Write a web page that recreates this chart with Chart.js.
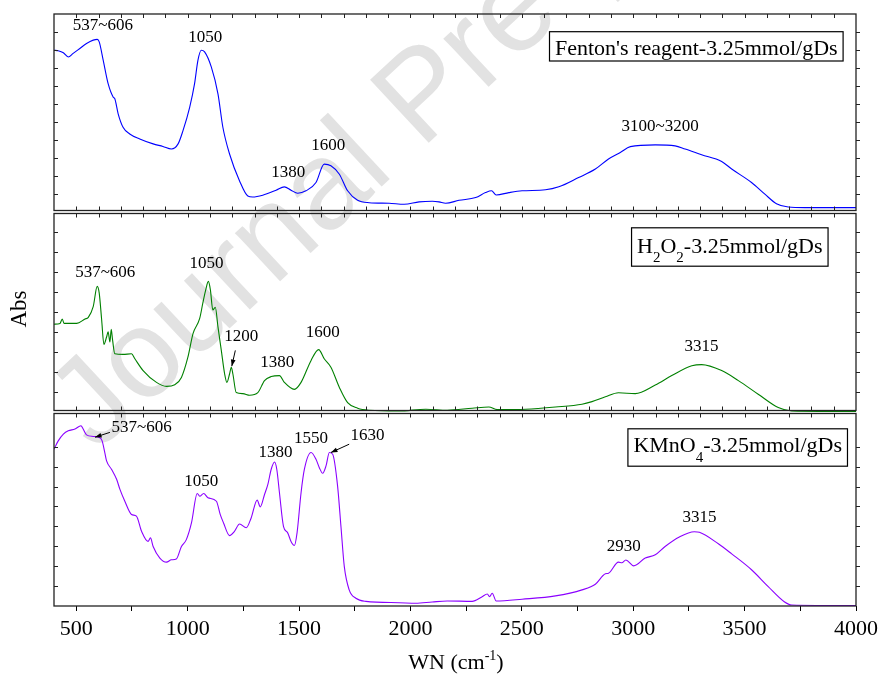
<!DOCTYPE html>
<html>
<head>
<meta charset="utf-8">
<script src="https://cdn.jsdelivr.net/npm/chart.js@4.4.1/dist/chart.umd.min.js"></script>
<style>
  html, body { margin: 0; padding: 0; background: #fff; }
  #wrap { position: relative; width: 883px; height: 675px; }
</style>
</head>
<body>
<div id="wrap"><canvas id="ftir"></canvas></div>
<script>
// --- Data (wavenumber cm-1, relative absorbance % of panel height) ---
const fentonWN = [400, 419, 442, 464, 486, 516, 546, 576, 594, 603, 621, 643, 666, 673, 688, 710, 740, 785, 845, 889,
  927, 957, 979, 1009, 1031, 1046, 1061, 1076, 1106, 1136, 1158, 1188, 1233, 1270, 1292, 1337, 1397, 1434, 1464, 1494,
  1531, 1576, 1613, 1643, 1681, 1718, 1763, 1815, 1904, 1972, 2039, 2098, 2128, 2158, 2218, 2293, 2337, 2364, 2385, 2442,
  2501, 2606, 2666, 2755, 2830, 2889, 2942, 2987, 3099, 3188, 3233, 3307, 3397, 3442, 3531, 3591, 3643, 3696, 3770, 4000];
const fentonAbs = [81.7, 81.4, 80.4, 78.3, 80.1, 82.6, 85.1, 86.8, 87.2, 85.9, 76.6, 64.8, 58.0, 57.2, 49.6, 42.8, 39.4, 36.9, 34.4, 33.1,
  31.8, 34.4, 41.1, 52.9, 64.8, 76.6, 81.7, 80.9, 73.3, 59.7, 42.8, 29.3, 15.7, 8.1, 7.6, 8.5, 11.0, 12.7, 11.0, 9.5,
  10.7, 14.9, 24.2, 23.4, 19.1, 10.7, 5.9, 4.7, 4.4, 3.9, 5.1, 5.4, 5.1, 4.4, 5.9, 7.3, 9.8, 10.7, 8.6, 9.8,
  10.7, 11.2, 12.7, 17.4, 21.7, 26.8, 30.1, 33.0, 33.9, 33.4, 31.8, 28.9, 25.5, 21.7, 14.9, 9.0, 4.2, 2.5, 2.2, 2.2];

const h2o2WN = [400, 427, 437, 445, 502, 539, 554, 576, 594, 603, 614, 624, 636, 643, 651, 657, 663, 673, 710, 748,
  763, 800, 860, 905, 942, 972, 1001, 1024, 1054, 1068, 1081, 1093, 1102, 1113, 1124, 1136, 1151, 1166, 1176, 1188,
  1196, 1203, 1218, 1248, 1278, 1315, 1345, 1375, 1412, 1434, 1479, 1509, 1554, 1588, 1613, 1643, 1681, 1718, 1763, 1815,
  1949, 2069, 2165, 2277, 2352, 2389, 2517, 2651, 2770, 2815, 2875, 2934, 3009, 3099, 3173, 3263, 3307, 3397, 3472, 3561,
  3651, 3711, 4000];
const h2o2Abs = [43.9, 44.3, 46.5, 44.3, 44.3, 46.5, 47.3, 52.7, 62.8, 59.4, 46.0, 33.8, 37.5, 40.1, 35.0, 41.3, 35.9, 29.1, 28.8, 29.1,
  26.6, 20.7, 14.8, 12.8, 13.6, 17.3, 27.4, 39.2, 46.8, 54.4, 61.1, 65.3, 61.1, 51.0, 52.4, 42.6, 30.8, 19.0, 14.8, 19.0,
  22.4, 19.0, 9.7, 9.2, 8.4, 9.7, 15.7, 17.7, 18.2, 14.8, 11.3, 14.8, 25.8, 31.2, 26.6, 22.4, 12.3, 4.7, 1.9, 0.9,
  0.5, 1.4, 0.9, 1.9, 2.5, 1.2, 1.4, 2.5, 3.9, 5.2, 7.6, 9.6, 9.2, 13.5, 18.2, 23.1, 23.7, 20.7, 15.7, 8.9,
  2.2, 0.5, 0.2];

const kmno4WN = [400, 419, 442, 464, 494, 521, 531, 546, 576, 606, 616, 628, 636, 658, 681, 696, 718, 748, 770, 793,
  822, 833, 845, 875, 905, 927, 949, 972, 994, 1017, 1043, 1054, 1072, 1091, 1129, 1146, 1161, 1188, 1210, 1233,
  1263, 1285, 1312, 1326, 1345, 1360, 1375, 1390, 1400, 1412, 1430, 1449, 1464, 1479, 1491, 1509, 1524, 1554, 1576, 1591,
  1606, 1621, 1636, 1651, 1673, 1688, 1703, 1725, 1755, 1800, 1949, 2024, 2098, 2165, 2277, 2322, 2345, 2355, 2367, 2385,
  2501, 2651, 2770, 2830, 2875, 2889, 2934, 2949, 2967, 3002, 3054, 3099, 3143, 3207, 3274, 3297, 3382, 3442, 3531, 3606,
  3678, 3711, 4000];
const kmno4Abs = [80.8, 85.1, 88.6, 90.3, 91.2, 92.9, 91.2, 88.2, 87.4, 86.7, 85.1, 79.1, 74.8, 70.5, 65.3, 60.1, 54.0, 47.2, 46.3, 38.5,
  33.3, 35.1, 30.7, 24.7, 22.6, 23.8, 24.2, 30.7, 34.2, 42.8, 58.0, 56.6, 58.0, 55.8, 54.0, 47.2, 42.8, 36.3, 38.5, 42.3,
  40.3, 45.4, 54.6, 51.1, 57.5, 62.7, 70.5, 74.2, 70.5, 58.4, 41.1, 37.7, 33.3, 31.2, 37.7, 58.4, 70.5, 79.1, 75.6, 71.3,
  68.4, 72.2, 79.1, 78.2, 61.8, 41.1, 20.4, 8.3, 4.0, 2.4, 1.7, 1.4, 2.1, 2.6, 2.4, 4.8, 6.2, 4.8, 6.6, 2.6,
  3.5, 5.2, 8.3, 11.2, 16.6, 16.9, 22.6, 22.3, 23.7, 20.7, 24.7, 26.4, 30.7, 35.6, 38.3, 38.0, 32.1, 26.9, 18.7, 10.0,
  2.2, 0.5, 0.2];

const sampleNames = ["Fenton's reagent-3.25mmol/gDs", "H_2O_2-3.25mmol/gDs", "KMnO_4-3.25mmol/gDs"]; // _x = subscript
const lineColors = ['#0000ff', '#008000', '#8b00ff'];
const xTickValues = [500, 750, 1000, 1250, 1500, 1750, 2000, 2250, 2500, 2750, 3000, 3250, 3500, 3750, 4000];
const xTickLabels = [500, 1000, 1500, 2000, 2500, 3000, 3500, 4000];

// peak labels: [text, wavenumber, abs]  (+ optional arrow: from [wn, abs] to [wn, abs])
const fentonPeaks = [['537~606', 619, 94.4], ['1050', 1079, 88.2], ['1380', 1452, 19.8], ['1600', 1631, 33.5], ['3100~3200', 3121, 43.1]];
const h2o2Peaks = [['537~606', 630, 69.5], ['1050', 1084, 74.2], ['1200', 1240, 37.5, [1214, 30.8], [1198, 22.9]],
  ['1380', 1402, 24.9], ['1600', 1606, 39.5], ['3315', 3307, 32.5]];
const kmno4Peaks = [['537~606', 793, 92.1, [651, 89.5], [584, 87.0]], ['1050', 1061, 64.4], ['1380', 1394, 79.1],
  ['1550', 1554, 86.4], ['1630', 1807, 88.1, [1725, 83.4], [1643, 79.1]], ['2930', 2957, 30.7], ['3315', 3297, 45.4]];

const SERIF = '"Liberation Serif", "Times New Roman", serif';

function pts(wn, ab) { return wn.map((w, i) => ({ x: w, y: ab[i] })); }

// draws "H_2O_2" style text, returns width
function richText(ctx, str, x, y, size, subSize, subDrop, measureOnly) {
  let cx = x;
  for (let i = 0; i < str.length; i++) {
    let ch = str[i], sub = false;
    if (ch === '_') { ch = str[++i]; sub = true; }
    ctx.font = (sub ? subSize : size) + 'px ' + SERIF;
    if (!measureOnly) ctx.fillText(ch, cx, sub ? y + subDrop : y);
    cx += ctx.measureText(ch).width;
  }
  return cx - x;
}

function arrow(ctx, x1, y1, x2, y2) {
  const a = Math.atan2(y2 - y1, x2 - x1), h = 7;
  ctx.beginPath(); ctx.moveTo(x1, y1); ctx.lineTo(x2, y2); ctx.stroke();
  ctx.beginPath();
  ctx.moveTo(x2, y2);
  ctx.lineTo(x2 - h * Math.cos(a - 0.35), y2 - h * Math.sin(a - 0.35));
  ctx.lineTo(x2 - h * Math.cos(a + 0.35), y2 - h * Math.sin(a + 0.35));
  ctx.closePath(); ctx.fill();
}

const panelDecor = {
  id: 'panelDecor',
  beforeDatasetsDraw(chart) {
    // faint "Journal Pre-proof" watermark
    const ctx = chart.ctx;
    ctx.save();
    ctx.translate(96, 453);
    ctx.rotate(-43 * Math.PI / 180);
    ctx.fillStyle = '#e2e2e2';
    ctx.font = '125px "Liberation Sans", Arial, sans-serif';
    ctx.textBaseline = 'alphabetic';
    ctx.fillText('Journal Pre-proof', 0, 0);
    ctx.restore();
  },
  afterDatasetsDraw(chart) {
    const ctx = chart.ctx, a = chart.chartArea, xs = chart.scales.x;
    const ys = [chart.scales.y1, chart.scales.y2, chart.scales.y3];
    ctx.save();
    ctx.strokeStyle = '#222';
    ys.forEach((s, i) => {
      const top = s.top + (i > 0 ? 1.5 : 0), bottom = s.bottom - (i < 2 ? 1.5 : 0);
      ctx.lineWidth = 1.3;
      ctx.strokeRect(a.left, top, a.right - a.left, bottom - top);
      ctx.lineWidth = 1;
      ctx.beginPath();
      for (let v = 500; v < 4000; v += 100) {
        const px = Math.round(xs.getPixelForValue(v)) + 0.5;
        ctx.moveTo(px, top); ctx.lineTo(px, top + 4);
        if (i < 2) { ctx.moveTo(px, bottom); ctx.lineTo(px, bottom - 4); }
      }
      s.ticks.forEach(t => {
        if (t.value <= s.min || t.value >= s.max) return;
        const py = Math.round(s.getPixelForValue(t.value)) + 0.5;
        ctx.moveTo(a.left, py); ctx.lineTo(a.left + 4, py);
        ctx.moveTo(a.right, py); ctx.lineTo(a.right + 4, py);
      });
      ctx.stroke();
    });
    ctx.restore();
  },
  afterDraw(chart) {
    const ctx = chart.ctx, xs = chart.scales.x;
    const ys = [chart.scales.y1, chart.scales.y2, chart.scales.y3];
    ctx.save();
    ctx.fillStyle = '#000'; ctx.strokeStyle = '#000';
    // peak labels
    [fentonPeaks, h2o2Peaks, kmno4Peaks].forEach((list, i) => {
      const s = ys[i];
      list.forEach(p => {
        ctx.font = '17px ' + SERIF;
        ctx.textAlign = 'center'; ctx.textBaseline = 'middle';
        ctx.fillText(p[0], xs.getPixelForValue(p[1]), s.getPixelForValue(p[2]));
        if (p[3]) {
          ctx.lineWidth = 1;
          arrow(ctx, xs.getPixelForValue(p[3][0]), s.getPixelForValue(p[3][1]),
            xs.getPixelForValue(p[4][0]), s.getPixelForValue(p[4][1]));
        }
      });
    });
    // sample boxes
    const boxes = [
      { cx: 696.3, top: 17.7, h: 29.3, base: 23.5, drop: 0 },
      { cx: 729.8, top: 14.3, h: 38.4, base: 25.4, drop: 9 },
      { cx: 737.7, top: 15.3, h: 37.4, base: 23.4, drop: 10 }
    ];
    ctx.textAlign = 'left'; ctx.textBaseline = 'alphabetic';
    boxes.forEach((b, i) => {
      const pTop = ys[i].top + (i > 0 ? 1.5 : 0);
      const w = richText(ctx, sampleNames[i], 0, 0, 22, 15, b.drop, true);
      const bx = b.cx - (w + 11) / 2, by = pTop + b.top;
      ctx.fillStyle = '#fff';
      ctx.fillRect(bx, by, w + 11, b.h);
      ctx.lineWidth = 1.2;
      ctx.strokeRect(bx, by, w + 11, b.h);
      ctx.fillStyle = '#000';
      richText(ctx, sampleNames[i], bx + 5.5, by + b.base, 22, 15, b.drop, false);
    });
    // axis titles
    ctx.save();
    ctx.translate(20, 309);
    ctx.rotate(-Math.PI / 2);
    ctx.font = '23px ' + SERIF;
    ctx.textAlign = 'center'; ctx.textBaseline = 'middle';
    ctx.fillText('Abs', 0, 0);
    ctx.restore();
    ctx.textAlign = 'left'; ctx.textBaseline = 'alphabetic';
    ctx.font = '22px ' + SERIF;
    const w1 = ctx.measureText('WN (cm').width, w3 = ctx.measureText(')').width;
    ctx.font = '14px ' + SERIF;
    const w2 = ctx.measureText('-1').width;
    let tx = 456 - (w1 + w2 + w3) / 2;
    const ty = 669;
    ctx.font = '22px ' + SERIF; ctx.fillText('WN (cm', tx, ty); tx += w1;
    ctx.font = '14px ' + SERIF; ctx.fillText('-1', tx, ty - 9); tx += w2;
    ctx.font = '22px ' + SERIF; ctx.fillText(')', tx, ty);
    ctx.restore();
  }
};

const yPanel = (weight, stackWeight, ticks) => ({
  type: 'linear', position: 'left', stack: 'panels', weight, stackWeight,
  min: 0, max: 100,
  ticks: { display: false, ...ticks },
  grid: { drawOnChartArea: false, drawTicks: false },
  border: { display: false },
  afterFit(s) { s.width = 0; }
});

new Chart(document.getElementById('ftir'), {
  type: 'line',
  data: {
    datasets: [
      { data: pts(fentonWN, fentonAbs), yAxisID: 'y1', borderColor: lineColors[0] },
      { data: pts(h2o2WN, h2o2Abs), yAxisID: 'y2', borderColor: lineColors[1] },
      { data: pts(kmno4WN, kmno4Abs), yAxisID: 'y3', borderColor: lineColors[2] }
    ]
  },
  options: {
    responsive: true,
    maintainAspectRatio: false,
    animation: false,
    layout: { padding: { left: 54, right: 25, top: 14, bottom: 0 } },
    elements: {
      line: { borderWidth: 1.1, cubicInterpolationMode: 'monotone', fill: false },
      point: { radius: 0 }
    },
    plugins: { legend: { display: false }, tooltip: { enabled: false } },
    scales: {
      x: {
        type: 'linear', position: 'bottom', min: 400, max: 4000,
        afterBuildTicks(s) { s.ticks = xTickValues.map(v => ({ value: v })); },
        ticks: {
          autoSkip: false, maxRotation: 0, padding: 5, color: '#000',
          font: { family: SERIF, size: 22 },
          callback: v => xTickLabels.includes(v) ? String(v) : ''
        },
        grid: { drawOnChartArea: false, tickLength: 5, color: '#000', lineWidth: 1 },
        border: { display: false },
        afterFit(s) { s.height = 69; }
      },
      y1: yPanel(3, 198, { count: 12 }),
      y2: yPanel(2, 200, { count: 11 }),
      y3: yPanel(1, 194, { stepSize: 10.26 })
    }
  },
  plugins: [panelDecor]
});
</script>
</body>
</html>
